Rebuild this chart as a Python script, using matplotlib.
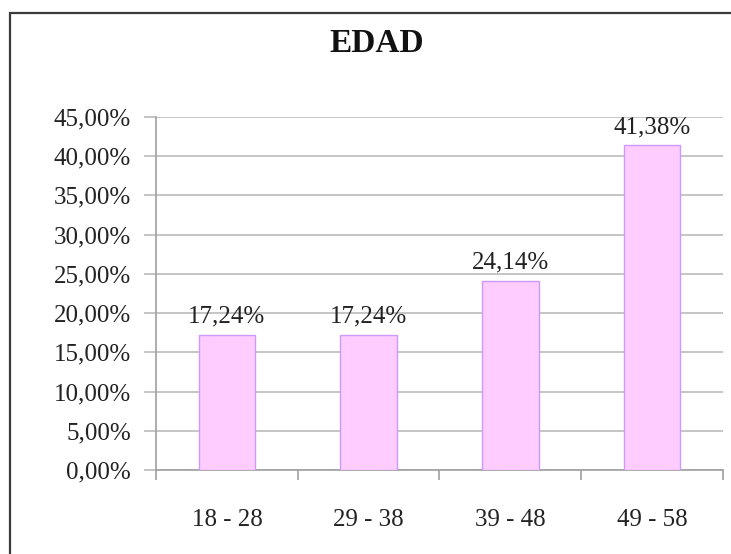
import matplotlib
matplotlib.use("Agg")
import matplotlib.pyplot as plt
from matplotlib.patches import Rectangle
import numpy as np

categories = ["18 - 28", "29 - 38", "39 - 48", "49 - 58"]
values = [17.24, 17.24, 24.14, 41.38]
yticks = [0, 5, 10, 15, 20, 25, 30, 35, 40, 45]
title = "EDAD"

def fmt(v):
    return f"{v:.2f}".replace(".", ",") + "%"

plt.rcParams['font.family'] = ['Liberation Serif', 'DejaVu Serif']

fig = plt.figure(figsize=(7.31, 5.54), dpi=100)
fig.patch.set_facecolor("white")

# outer frame (extends past right and bottom edges)
fig.patches.append(Rectangle((10 / 731, -0.05), 1.1, 1 - 13 / 554 + 0.05,
                             transform=fig.transFigure, fill=False,
                             edgecolor="#3a3a3a", linewidth=1.6))

ax = fig.add_axes([156 / 731, 1 - 470 / 554, (723 - 156) / 731, (470 - 117) / 554])
x = np.arange(len(categories))
ax.bar(x, values, width=0.40, color="#FFCCFF", edgecolor="#CC99FF", linewidth=1.0, zorder=3)

ax.set_xlim(-0.5, len(categories) - 0.5)
ax.set_ylim(0, 45)
ax.set_yticks(yticks)
ax.set_yticklabels([fmt(v) for v in yticks], fontsize=18, color="#222222")
ax.yaxis.grid(True, color="#BBBBBB", linewidth=1.2, zorder=0)
ax.set_axisbelow(True)

ax.set_xticks(x)
ax.set_xticklabels(categories, fontsize=18, color="#222222")
ax.set_xticks(np.arange(-0.5, len(categories)), minor=True)
ax.tick_params(axis="x", which="major", length=0, pad=28)
ax.tick_params(axis="x", which="minor", length=7, color="#A0A0A0", width=1.2)
ax.tick_params(axis="y", length=9, color="#BBBBBB", width=1.2, pad=9)

for s in ["top", "right"]:
    ax.spines[s].set_visible(False)
ax.spines["left"].set_color("#A0A0A0")
ax.spines["left"].set_linewidth(1.2)
ax.spines["bottom"].set_color("#A0A0A0")
ax.spines["bottom"].set_linewidth(1.2)

for xi, v in zip(x, values):
    ax.annotate(fmt(v), (xi, v), xytext=(0, 5), textcoords="offset points",
                ha="center", va="bottom", fontsize=18, color="#222222", zorder=4)

fig.text(377 / 731, 1 - 44 / 554, title, ha="center", va="center",
         fontsize=24, fontweight="bold", color="#111111")

fig.savefig("out.png", dpi=100, facecolor="white")
